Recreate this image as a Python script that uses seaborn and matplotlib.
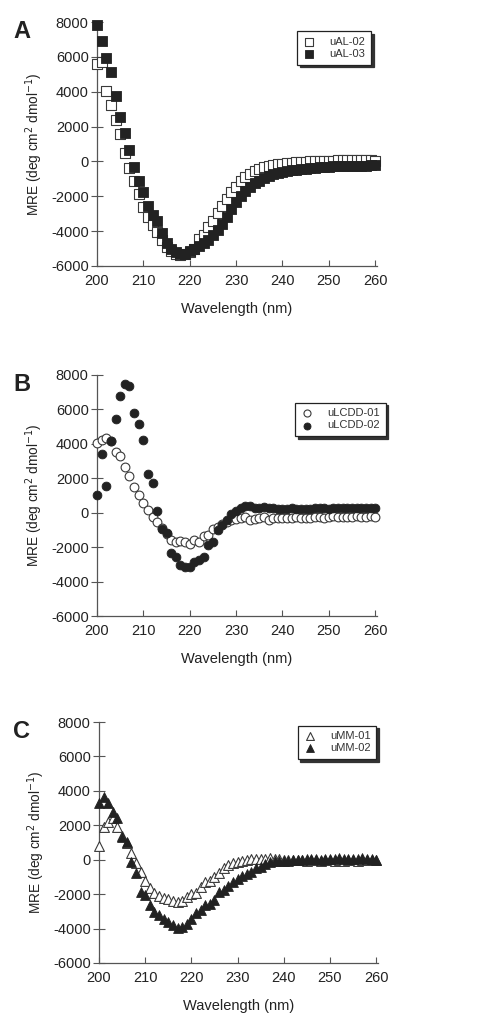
import numpy as np
import matplotlib
matplotlib.use("Agg")
import matplotlib.pyplot as plt
import seaborn as sns

wavelength = list(range(200, 261))

ual_02 = [5600, 5700, 4050, 3250, 2350, 1550, 480, -400, -1150, -1850,
          -2600, -3200, -3650, -4050, -4500, -4900, -5150, -5300, -5350, -5300,
          -5200, -5000, -4450, -4200, -3750, -3400, -2950, -2550, -2150, -1750,
          -1450, -1150, -900, -700, -550, -420, -330, -270, -220, -170,
          -130, -100, -80, -60, -40, -20, 0, 10, 20, 30,
          40, 50, 60, 60, 70, 70, 70, 60, 70, 60, 50]
ual_03 = [7800, 6900, 5950, 5150, 3750, 2550, 1650, 650, -300, -1100,
          -1750, -2550, -3100, -3400, -4100, -4700, -5000, -5200, -5300, -5300,
          -5150, -5000, -4850, -4700, -4500, -4250, -3950, -3600, -3200, -2750,
          -2350, -2000, -1700, -1450, -1250, -1100, -950, -850, -750, -680,
          -620, -570, -520, -480, -440, -410, -380, -360, -340, -320,
          -300, -290, -280, -270, -260, -250, -250, -250, -240, -230, -220]

ulcdd_01 = [4030, 4200, 4320, 4150, 3550, 3320, 2670, 2130, 1510, 1030,
            550, 150, -270, -560, -900, -1250, -1590, -1720, -1650, -1720,
            -1820, -1590, -1680, -1350, -1300, -970, -810, -680, -550, -450,
            -380, -300, -250, -400, -350, -300, -250, -450, -300, -280,
            -300, -280, -330, -250, -300, -320, -280, -250, -230, -300,
            -250, -200, -250, -230, -260, -220, -200, -260, -220, -200, -220]
ulcdd_02 = [1010, 3390, 1550, 4170, 5420, 6780, 7460, 7360, 5770, 5150,
            4220, 2250, 1710, 100, -960, -1200, -2320, -2560, -3040, -3140,
            -3150, -2850, -2750, -2550, -1880, -1720, -1010, -700, -400, -100,
            100, 300, 380, 380, 300, 250, 330, 280, 250, 230,
            200, 200, 250, 220, 200, 220, 230, 250, 300, 250,
            230, 280, 280, 260, 280, 300, 300, 290, 300, 300, 280]

umm_01 = [800, 1920, 2170, 2450, 1900, 1350, 1000, 380, -210, -700,
          -1220, -1670, -1920, -2110, -2250, -2290, -2380, -2440, -2380, -2190,
          -2000, -1920, -1570, -1320, -1250, -990, -790, -500, -310, -210,
          -120, -50, 0, 60, 60, 50, 40, 80, 60, 40,
          0, -20, -30, -20, -40, -50, -30, -40, -60, -30,
          -30, -50, -40, -60, -40, -40, -50, -30, -40, -30, 0]
umm_02 = [3280, 3660, 3280, 2790, 2400, 1340, 1010, -120, -790, -1860,
          -2050, -2630, -3060, -3210, -3440, -3600, -3790, -3950, -3900, -3750,
          -3440, -3110, -2920, -2630, -2550, -2340, -1860, -1760, -1500, -1300,
          -1100, -950, -850, -700, -500, -400, -250, -150, -100, -80,
          -60, -50, -40, -30, 0, 50, 50, 50, 0, 50,
          30, 50, 80, 50, 30, 20, 20, 80, 20, 50, 0]

panel_letters = ["A", "B", "C"]
series_labels = [("uAL-02", "uAL-03"), ("uLCDD-01", "uLCDD-02"), ("uMM-01", "uMM-02")]
series_values = [(ual_02, ual_03), (ulcdd_01, ulcdd_02), (umm_01, umm_02)]
y_ticks = [-6000, -4000, -2000, 0, 2000, 4000, 6000, 8000]
x_ticks = [200, 210, 220, 230, 240, 250, 260]

sns.set_theme(style="white")
plt.rcParams['font.family'] = ['Liberation Sans', 'DejaVu Sans']

W, H = 482, 1018
fig = plt.figure(figsize=(W / 100, H / 100), dpi=100)

# axes boxes in pixels: left, top, right, bottom
boxes = [(97, 22, 377, 266), (97, 375, 377, 616), (99, 722, 378, 963)]
markers = ["s", "o", "^"]
sizes = [46, 40, 50]
legend_anchor = [(0.715, 0.962), (0.708, 0.885), (0.712, 0.985)]

for i in range(3):
    l, t, r, b = boxes[i]
    ax = fig.add_axes([l / W, 1 - b / H, (r - l) / W, (b - t) / H])
    open_vals, fill_vals = series_values[i]
    lab_open, lab_fill = series_labels[i]
    sns.scatterplot(x=wavelength, y=open_vals, ax=ax, marker=markers[i], s=sizes[i],
                    facecolor="white", edgecolor="#3a3a3a", linewidth=0.8,
                    label=lab_open, clip_on=False, zorder=3)
    sns.scatterplot(x=wavelength, y=fill_vals, ax=ax, marker=markers[i], s=sizes[i],
                    facecolor="#222222", edgecolor="#222222", linewidth=0.6,
                    label=lab_fill, clip_on=False, zorder=4)
    ax.set_xlim(200, 260.4)
    ax.set_ylim(-6000, 8000)
    ax.set_xticks(x_ticks)
    ax.set_yticks(y_ticks)
    ax.set_xticklabels([str(v) for v in x_ticks])
    ax.set_yticklabels([str(v) for v in y_ticks])
    for side in ["top", "right"]:
        ax.spines[side].set_visible(False)
    for side in ["left", "bottom"]:
        ax.spines[side].set_color("#555555")
        ax.spines[side].set_linewidth(0.9)
    ax.tick_params(axis="x", direction="in", length=4, width=0.8, color="#555555",
                   labelsize=10.5, labelcolor="#222222", pad=6, bottom=True)
    ax.tick_params(axis="y", direction="inout", length=8, width=0.8, color="#555555",
                   labelsize=10.5, labelcolor="#222222", pad=2, left=True)
    ax.set_xlabel("Wavelength (nm)", fontsize=10.5, color="#222222", labelpad=10)
    ax.set_ylabel("MRE (deg cm$^{2}$ dmol$^{-1}$)", fontsize=9.8, color="#222222", labelpad=4)
    ax.grid(False)
    leg = ax.legend(loc="upper left", bbox_to_anchor=legend_anchor[i], frameon=True,
                    fancybox=False, shadow={"color": "#333333", "alpha": 1.0},
                    fontsize=8, markerscale=0.8, handletextpad=1.2,
                    borderpad=0.5, labelspacing=0.2, handlelength=1.2,
                    borderaxespad=0)
    leg.get_frame().set_edgecolor("#222222")
    leg.get_frame().set_linewidth(0.9)
    for txt in leg.get_texts():
        txt.set_color("#333333")
    fig.text(13 / W, 1 - (t + 10) / H, panel_letters[i], fontsize=17, fontweight="bold",
             color="#222222", ha="left", va="center")

fig.savefig("out.png", dpi=100)
